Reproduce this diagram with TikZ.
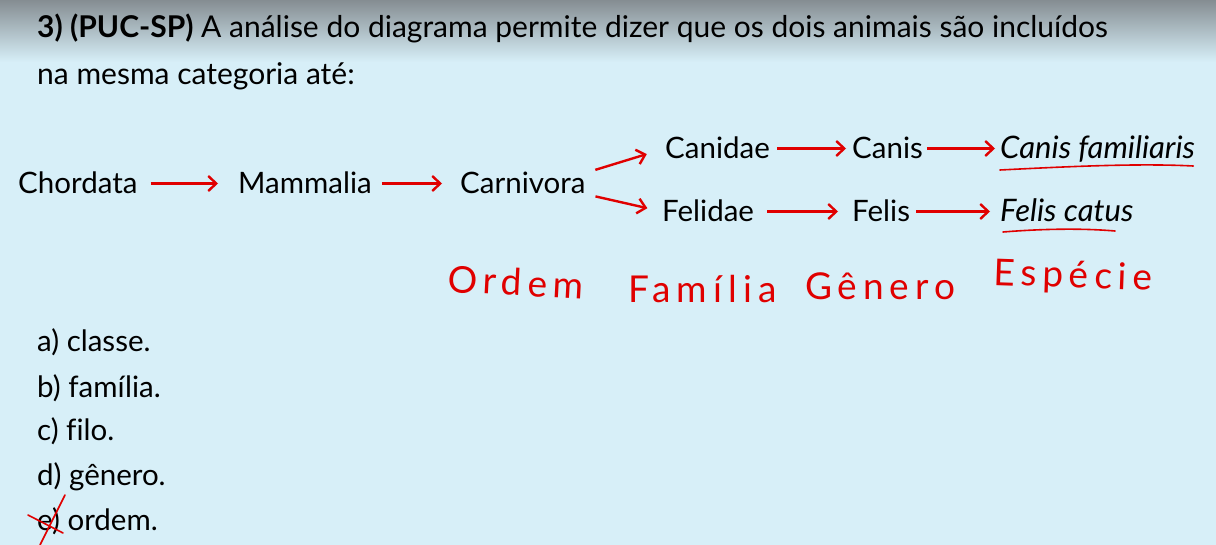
\documentclass[tikz,border=0pt]{standalone}
\usepackage{fontspec}
\setmainfont{Lato}
\newfontfamily\handfont[LetterSpace=16]{Lato}
\usetikzlibrary{arrows.meta,calc}
\definecolor{bg}{HTML}{D7EFF8}
\definecolor{topgray}{HTML}{858D92}
\definecolor{pen}{HTML}{E00000}
\begin{document}
\begin{tikzpicture}[x=1pt,y=-1pt,
 txt/.style={inner sep=0pt, anchor=base west, font=\fontsize{29.5}{31}\selectfont, text height=21pt, text depth=0pt},
 ttl/.style={txt, font=\fontsize{30}{32}\selectfont},
 itx/.style={txt, font=\fontsize{31}{33}\selectfont\itshape},
 hand/.style={inner sep=0pt, anchor=base west, text=pen, font=\handfont\fontsize{37}{40}\selectfont},
 arr/.style={draw=pen, line width=2.4pt, -{Straight Barb[length=8pt,width=15pt,line width=2.4pt]}},
 pencil/.style={draw=pen, line width=1.6pt, line cap=round}]
\useasboundingbox (0,0) rectangle (1216,545);
\fill[bg] (0,0) rectangle (1216,545);
\shade[top color=topgray, bottom color=bg] (0,0) rectangle (1216,62);
% question
\node[ttl] (t1) at (37,38) {\textbf{3) (PUC-SP)} A análise do diagrama permite dizer que os dois animais são incluídos};
\node[ttl] (t2) at (37,85) {na mesma categoria até:};
% diagram
\node[txt] (chor) at (18,194) {Chordata};
\node[txt] (mamm) at (238,194) {Mammalia};
\node[txt] (carn) at (460,194) {Carnivora};
\node[txt] (cnd) at (665,159) {Canidae};
\node[txt] (cns) at (852,159) {Canis};
\node[itx] (cfam) at (1000,159) {Canis familiaris};
\node[txt] (fld) at (662,222) {Felidae};
\node[txt] (fls) at (852,222) {Felis};
\node[itx] (fcat) at (1000,222) {Felis catus};
\draw[arr, shorten <=13pt, shorten >=20pt] (chor.east) -- (mamm.west);
\draw[arr, shorten <=10pt, shorten >=18pt] (mamm.east) -- (carn.west);
\draw[arr, shorten <=10pt, shorten >=19pt] (carn.north east) -- (cnd.west);
\draw[arr, shorten <=10pt, shorten >=15pt] (carn.south east) -- (fld.west);
\draw[arr, shorten <=7pt, shorten >=6pt] (cnd.east) -- (cns.west);
\draw[arr, shorten <=4pt, shorten >=5pt] (cns.east) -- (cfam.west);
\draw[arr, shorten <=13pt, shorten >=14pt] (fld.east) -- (fls.west);
\draw[arr, shorten <=6pt, shorten >=10pt] (fls.east) -- (fcat.west);
% underlines
\draw[pencil] ($(cfam.base west)+(0,11)$) .. controls ($(cfam.base west)+(60,8)$) and ($(cfam.base east)+(-60,4)$) .. ($(cfam.base east)+(-2,7)$);
\draw[pencil] ($(fcat.base west)+(3,10)$) .. controls ($(fcat.base west)+(40,7)$) and ($(fcat.base west)+(80,6)$) .. ($(fcat.base west)+(115,9)$);
% handwritten ranks
\node[hand, rotate=-3] (ordem) at (447,292) {Ordem};
\node[hand] (fam) at (628,303) {Família};
\node[hand] (gen) at (805,300) {Gênero};
\node[hand, rotate=-2] (esp) at (993,285) {Espécie};
% options
\node[txt] (oa) at (37,352) {a) classe.};
\node[txt] (ob) at (37,397) {b) família.};
\node[txt] (oc) at (37,440) {c) f\kern0pt ilo.};
\node[txt] (od) at (37,485) {d) gênero.};
\node[txt] (oe) at (37,530) {e) ordem.};
\draw[pencil] (28,515) -- (63,533);
\draw[pencil] (65,495) -- (40,545);
\end{tikzpicture}
\end{document}
